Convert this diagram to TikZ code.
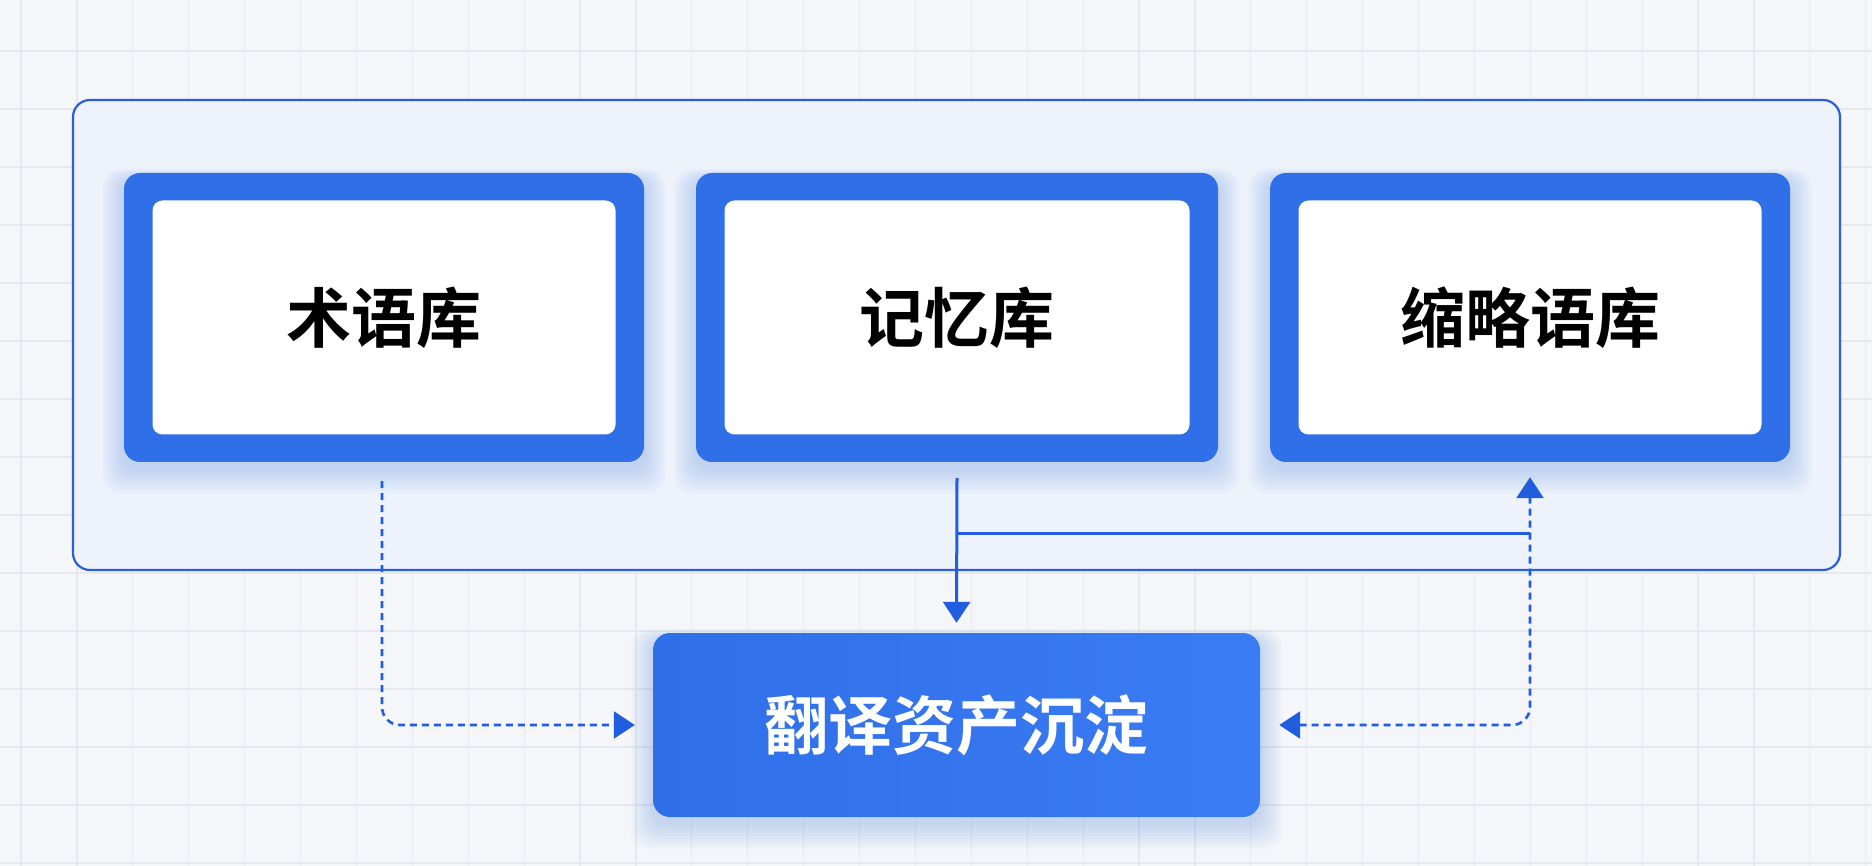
\documentclass[tikz,border=0pt]{standalone}
\usepackage{fontspec}
\newfontfamily\cjk{Noto Sans CJK SC}[BoldFont={* Bold}]
\usetikzlibrary{arrows.meta}
\definecolor{bg}{HTML}{F4F6F9}
\definecolor{gridc}{HTML}{E5E8ED}
\definecolor{panel}{HTML}{EEF3FB}
\definecolor{panelline}{HTML}{2A5FDB}
\definecolor{boxblue}{HTML}{2F6FE8}
\definecolor{boxblue2}{HTML}{3A7CF4}
\definecolor{linkc}{HTML}{215DDF}
\newcommand{\myglow}[4]{%
  \foreach \i in {1,...,10}{
    \fill[boxblue, opacity=0.022, rounded corners=18pt]
      (#1-#3/2-\i*2.2, #2-#4/2-\i*1.0+6) rectangle (#1+#3/2+\i*2.2, #2+#4/2+\i*2.6+6);
  }}
\tikzset{
  outerbox/.style={fill=boxblue, draw=none, rounded corners=16pt, minimum width=520pt, minimum height=289pt, inner sep=0pt},
  innerbox/.style={fill=white, draw=none, rounded corners=10pt, minimum width=463pt, minimum height=234pt, inner sep=0pt,
    font=\cjk\bfseries\fontsize{65pt}{70pt}\selectfont, text=black},
  mainbox/.style={left color=boxblue, right color=boxblue2, draw=none, rounded corners=17pt,
    minimum width=607pt, minimum height=184pt, inner sep=0pt,
    font=\cjk\bfseries\fontsize{64pt}{70pt}\selectfont, text=white},
  dashline/.style={draw=linkc, line width=2.6pt, dash pattern=on 7pt off 5pt},
  solidline/.style={draw=linkc, line width=3pt},
  tip/.style={-{Triangle[length=21pt, width=27pt]}}
}
\begin{document}
\begin{tikzpicture}[x=1pt, y=-1pt]
\useasboundingbox (0,0) rectangle (1872,866);
\fill[bg] (0,0) rectangle (1872,866);
\foreach \k in {0,...,33}{\draw[gridc, line width=1.2pt] (21+55.9*\k,0) -- ++(0,866);}
\foreach \k in {0,...,14}{\draw[gridc, line width=1.2pt] (0,51+58*\k) -- ++(1872,0);}
% panel
\draw[fill=panel, draw=panelline, line width=2.2pt, rounded corners=17pt] (73,100) rectangle (1840,570);
% glows
\myglow{384}{317.5}{520}{289}
\myglow{957}{317.5}{522}{289}
\myglow{1530}{317.5}{520}{289}
\myglow{956.5}{725}{607}{184}
% boxes
\node[outerbox] (a1) at (384,317.5) {};
\node[innerbox] (a1in) at (384,317.5) {术语库};
\node[outerbox, minimum width=522pt] (a2) at (957,317.5) {};
\node[innerbox, minimum width=465pt] (a2in) at (957,317.5) {记忆库};
\node[outerbox] (a3) at (1530,317.5) {};
\node[innerbox] (a3in) at (1530,317.5) {缩略语库};
\node[mainbox] (b) at (956.5,725) {翻译资产沉淀};
% connectors
\coordinate (jy) at (0,533);
\draw[dashline, tip, rounded corners=18pt] ([xshift=-2pt,yshift=-19pt]a1.south) |- ([xshift=-18pt]b.west);
\draw[solidline, tip] ([yshift=-16pt]a2.south) -- ([yshift=10pt]b.north);
\draw[solidline] (a2.south |- jy) -- (a3.south |- jy);
\draw[dashline, {Triangle[length=21pt, width=27pt]}-{Triangle[length=21pt, width=27pt]}, rounded corners=18pt]
  ([xshift=19pt]b.east) -| ([yshift=-15pt]a3.south);
\end{tikzpicture}
\end{document}
